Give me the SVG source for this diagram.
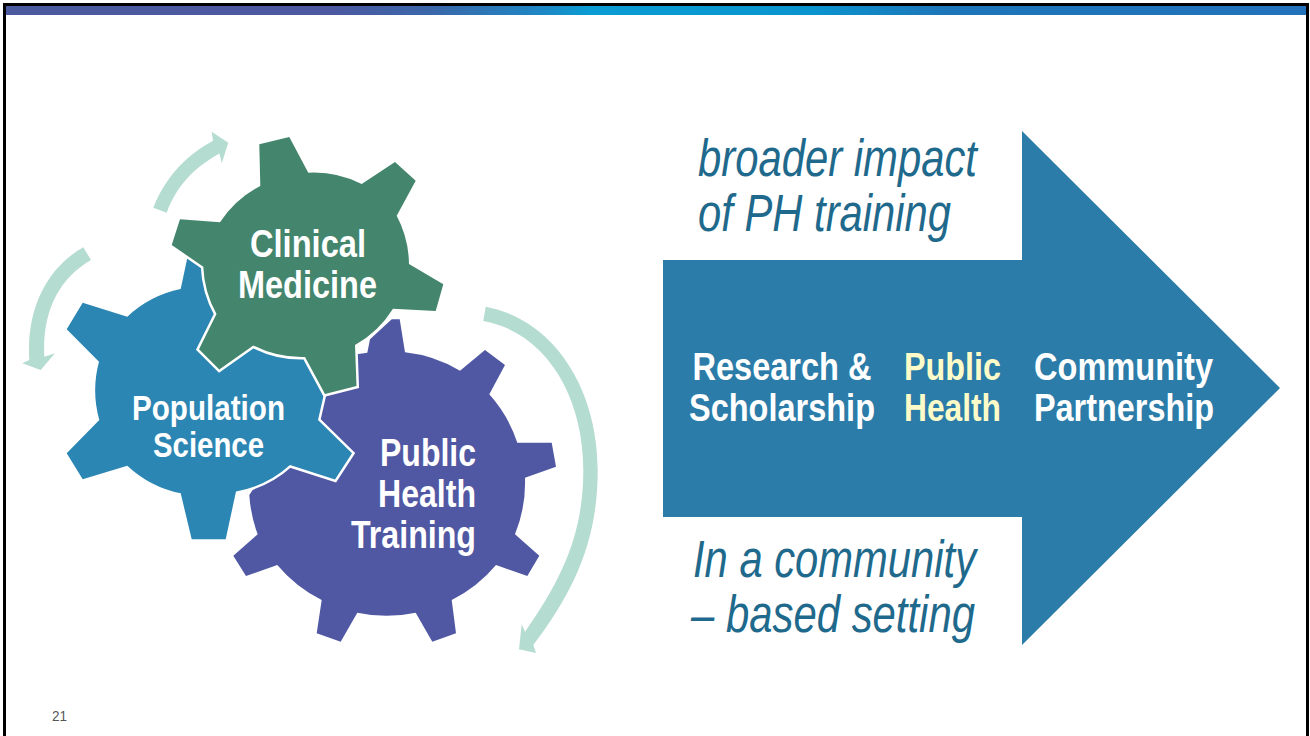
<svg xmlns="http://www.w3.org/2000/svg" width="1310" height="736" viewBox="0 0 1310 736">
<defs>
<linearGradient id="band" x1="0" y1="0" x2="1" y2="0">
<stop offset="0" stop-color="#4C5BA0"/><stop offset="0.25" stop-color="#4C58A0"/><stop offset="0.33" stop-color="#3A68AA"/><stop offset="0.41" stop-color="#1F86C4"/><stop offset="0.45" stop-color="#0A9CD3"/><stop offset="0.62" stop-color="#0A94CE"/><stop offset="0.72" stop-color="#1C76BA"/><stop offset="1" stop-color="#2272BC"/>
</linearGradient>
</defs>
<style>
.gear{stroke:#fff;stroke-width:5;stroke-linejoin:miter;paint-order:stroke fill}
.flow{fill:#B5DCD0}
text{font-family:"Liberation Sans",Arial,sans-serif}
.w{font-weight:700;fill:#fff;font-size:38px}
.y{font-weight:700;fill:#FDFBC8;font-size:39px}
.a{font-weight:700;fill:#fff;font-size:39px}
.p{font-weight:700;fill:#fff;font-size:35px}
.i{font-style:italic;fill:#1F6A8C;font-size:51px}
</style>
<rect width="1310" height="736" fill="#fff"/>
<g id="frame">
<rect x="5" y="6" width="1301" height="9" fill="url(#band)"/>
<rect x="3" y="3" width="1306" height="3" fill="#000"/>
<rect x="3" y="3" width="3" height="733" fill="#000"/>
<rect x="1306" y="3" width="3" height="733" fill="#000"/>
</g>
<g id="gear-public-health-training">
<path fill="#5058A3" d="M391.7,319.3 L399.7,319.3 L405,352.3 A136,136 0 0 1 460,370.7 L485,350 L505,365 L489.3,394.3 A136,136 0 0 1 517.3,442.7 L551.7,442.7 L556,466.7 L525,477.7 A138,138 0 0 1 515,534.3 L539.3,555.7 L527.3,576 L496,565 A138,138 0 0 1 451.7,600 L456,633.3 L432.3,641.7 L415.7,612.7 A138,138 0 0 1 357.3,612.7 L340.7,641.7 L316.7,633.3 L321.7,600 A138,138 0 0 1 277.3,565 L246,576 L233.3,555.7 L257.7,534.3 A138,138 0 0 1 249.3,495 L300,420 L340,370 L350,352 L358.7,354 L367.3,352.7 L370,339.3 Z"/>
<text class="w" x="476" y="466" text-anchor="end" textLength="96" lengthAdjust="spacingAndGlyphs">Public</text>
<text class="w" x="476" y="507" text-anchor="end" textLength="98" lengthAdjust="spacingAndGlyphs">Health</text>
<text class="w" x="476" y="548" text-anchor="end" textLength="125" lengthAdjust="spacingAndGlyphs">Training</text>
</g>
<g id="gear-population-science">
<path class="gear" fill="#2C86B3" d="M82.7,302.7 L127.3,316.7 A110,110 0 0 1 180.7,289 L187.3,258 L215,262 L330,340 L323.5,396 L318,420 L352,453.3 L335,479.5 L290,465 A110,110 0 0 1 236,491.5 L225.7,539.3 L191.7,539.3 L180.7,493.3 A110,110 0 0 1 127.3,465.7 L82.7,479.3 L66.7,453.3 L99.3,420 A110,110 0 0 1 99,361.7 L66.7,329.3 Z"/>
<text class="p" x="132" y="420" textLength="153" lengthAdjust="spacingAndGlyphs">Population</text>
<text class="p" x="153" y="457" textLength="111" lengthAdjust="spacingAndGlyphs">Science</text>
</g>
<g id="gear-clinical-medicine">
<path class="gear" fill="#44856D" d="M259.3,144.3 L289.3,137 L308.3,172.7 A106,106 0 0 1 361.7,184 L395,162 L415.7,180.7 L396.7,215.7 A106,106 0 0 1 409,264 L443.3,284.3 L435.7,311 L393,308.7 A106,106 0 0 1 355,345 L356.5,386 L325,394 L305,357 A106,106 0 0 1 253.3,345.5 L219.3,369.5 L199,349.3 L216.5,314 A106,106 0 0 1 203.3,266.7 L171.7,245 L180,219.3 L220,222.3 A106,106 0 0 1 260.3,186 Z"/>
<text class="w" x="250" y="256.5" textLength="116" lengthAdjust="spacingAndGlyphs">Clinical</text>
<text class="w" x="238" y="297.5" textLength="139" lengthAdjust="spacingAndGlyphs">Medicine</text>
</g>
<g id="connectors">
<path class="flow" d="M153.3,207.7 C165,178 185,156 213,140.7 L211.7,131.7 L228.3,142.7 L221.7,163.3 L219.5,153.5 C193,168 176,187 166.7,212.7 Z"/>
<path class="flow" d="M83.3,247.3 C50,266 26,305 29.3,360 L22.3,363.3 L40.7,370 L55,353.3 L44.3,356.7 C42,310 60,278 91,260 Z"/>
<path class="flow" d="M485.7,306.7 C555,320 597.7,390 597.7,470 C597.7,540 575,590 533.3,645 L536,653 L519,649.3 L521.7,624.3 L525,631.7 C565,575 583.3,530 583.3,470 C583.3,395 545,332 483.3,321 Z"/>
</g>
<g id="big-arrow">
<path fill="#2B7CA8" d="M663,260 H1022 V131 L1280,388 L1022,645 V517 H663 Z"/>
<text class="a" x="692.5" y="380" textLength="179" lengthAdjust="spacingAndGlyphs">Research &amp;</text>
<text class="a" x="689" y="421" textLength="186" lengthAdjust="spacingAndGlyphs">Scholarship</text>
<text class="y" x="904" y="380" textLength="97" lengthAdjust="spacingAndGlyphs">Public</text>
<text class="y" x="904" y="421" textLength="97" lengthAdjust="spacingAndGlyphs">Health</text>
<text class="a" x="1034" y="380" textLength="179" lengthAdjust="spacingAndGlyphs">Community</text>
<text class="a" x="1034" y="421" textLength="180" lengthAdjust="spacingAndGlyphs">Partnership</text>
</g>
<g id="captions">
<text class="i" x="698" y="176" textLength="279" lengthAdjust="spacingAndGlyphs">broader impact</text>
<text class="i" x="698" y="231" textLength="253" lengthAdjust="spacingAndGlyphs">of PH training</text>
<text class="i" x="693" y="577" textLength="283" lengthAdjust="spacingAndGlyphs">In a community</text>
<text class="i" x="691" y="632" textLength="284" lengthAdjust="spacingAndGlyphs">– based setting</text>
<text x="52" y="721" font-size="15" fill="#555" textLength="15" lengthAdjust="spacingAndGlyphs">21</text>
</g>
</svg>
